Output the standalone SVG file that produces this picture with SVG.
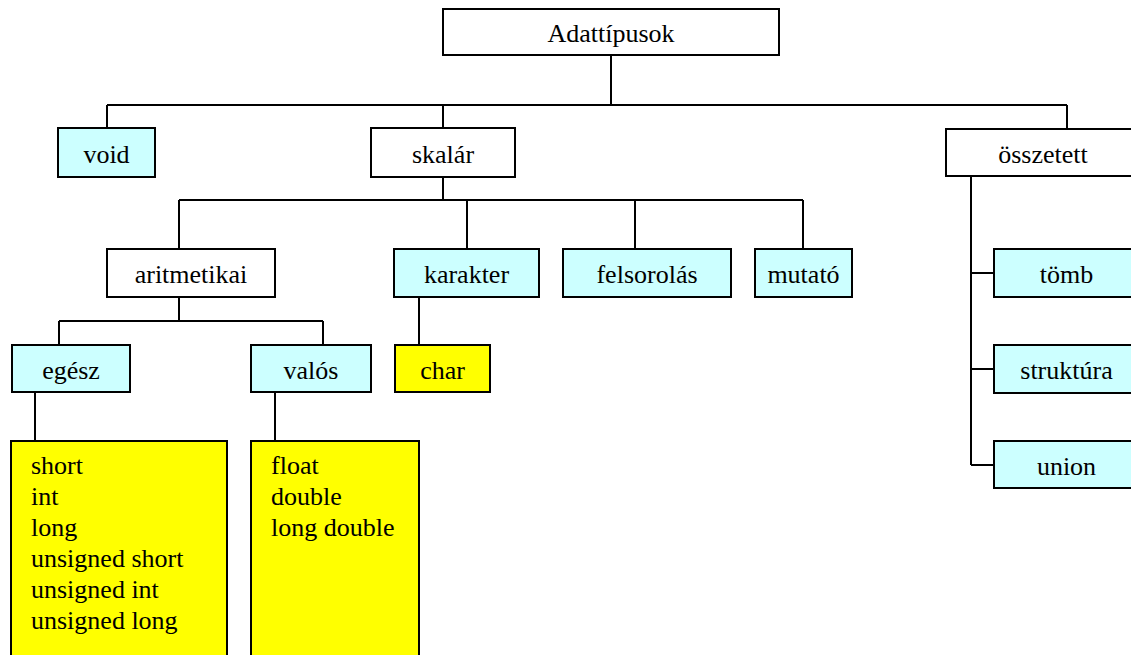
<svg xmlns="http://www.w3.org/2000/svg" width="1131" height="655" viewBox="0 0 1131 655" font-family="'Liberation Serif', 'Times New Roman', 'DejaVu Serif', serif">
<style>
.b{stroke:#000;stroke-width:2;}
.w{fill:#fff;}
.c{fill:#ccffff;}
.y{fill:#ffff00;}
text{font-family:'Liberation Serif','Times New Roman','DejaVu Serif',serif;font-size:26px;fill:#000;}
.m{text-anchor:middle;}
.cn{stroke:#000;stroke-width:2;fill:none;}
</style>
<rect width="1131" height="655" fill="#fff"/>
<g id="connectors">
<path class="cn" d="M611,55V105M107,105H1067M107,105V128M443,105V128M1067,105V129"/>
<path class="cn" d="M443,177V200M179,200H803M179,200V249M467,200V249M635,200V249M803,200V249"/>
<path class="cn" d="M179,297V321M59,321H323M59,321V345M323,321V345"/>
<path class="cn" d="M419,297V345M35,392V441M275,392V441"/>
<path class="cn" d="M971,176V465M971,273H994M971,369H994M971,465H994"/>
</g>
<g id="adattipusok"><rect class="b w" x="443" y="9" width="336" height="46"/><text class="m" x="611" y="42">Adattípusok</text></g>
<g id="void"><rect class="b c" x="58" y="128" width="97" height="49"/><text class="m" x="106.5" y="162.5">void</text></g>
<g id="skalar"><rect class="b w" x="371" y="128" width="144" height="49"/><text class="m" x="443" y="162.5">skalár</text></g>
<g id="osszetett"><rect class="b w" x="946" y="129" width="194" height="47"/><text class="m" x="1043" y="162.5">összetett</text></g>
<g id="aritmetikai"><rect class="b w" x="107" y="249" width="168" height="48"/><text class="m" x="191" y="282.5">aritmetikai</text></g>
<g id="karakter"><rect class="b c" x="394" y="249" width="145" height="48"/><text class="m" x="466.5" y="282.5">karakter</text></g>
<g id="felsorolas"><rect class="b c" x="563" y="249" width="168" height="48"/><text class="m" x="647" y="282.5">felsorolás</text></g>
<g id="mutato"><rect class="b c" x="755" y="249" width="97" height="48"/><text class="m" x="803.5" y="282.5">mutató</text></g>
<g id="egesz"><rect class="b c" x="12" y="345" width="118" height="47"/><text class="m" x="71" y="378.5">egész</text></g>
<g id="valos"><rect class="b c" x="251" y="345" width="120" height="47"/><text class="m" x="311" y="378.5">valós</text></g>
<g id="char"><rect class="b y" x="395" y="345" width="95" height="47"/><text class="m" x="442.5" y="378.5">char</text></g>
<g id="tomb"><rect class="b c" x="994" y="249" width="145" height="48"/><text class="m" x="1066.5" y="282.5">tömb</text></g>
<g id="struktura"><rect class="b c" x="994" y="345" width="145" height="48"/><text class="m" x="1066.5" y="378.5">struktúra</text></g>
<g id="union"><rect class="b c" x="994" y="441" width="145" height="47"/><text class="m" x="1066.5" y="474.5">union</text></g>
<g id="egesz-lista"><rect class="b y" x="11" y="441" width="216" height="230"/>
<text x="31" y="474">short</text><text x="31" y="505">int</text><text x="31" y="536">long</text><text x="31" y="567">unsigned short</text><text x="31" y="598">unsigned int</text><text x="31" y="629">unsigned long</text></g>
<g id="valos-lista"><rect class="b y" x="251" y="441" width="168" height="230"/>
<text x="271" y="474">float</text><text x="271" y="505">double</text><text x="271" y="536">long double</text></g>
</svg>
